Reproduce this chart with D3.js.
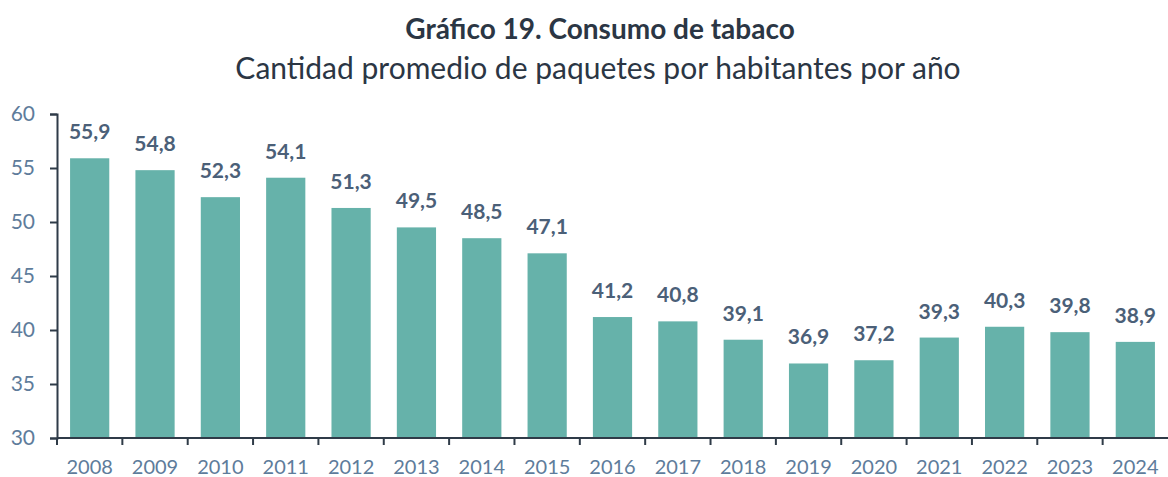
<!DOCTYPE html>
<meta charset="utf-8">
<head>
    <script src="https://d3js.org/d3.v7.min.js"></script>
</head>
<body style="margin:0; background:#fff;">
    <div id="svg_div"></div>
</body>
<script>
    // data
    var years = ["2008", "2009", "2010", "2011", "2012", "2013", "2014", "2015", "2016",
        "2017", "2018", "2019", "2020", "2021", "2022", "2023", "2024"];
    var packs = [55.9, 54.8, 52.3, 54.1, 51.3, 49.5, 48.5, 47.1, 41.2,
        40.8, 39.1, 36.9, 37.2, 39.3, 40.3, 39.8, 38.9];
    var y_ticks = [30, 35, 40, 45, 50, 55, 60];

    var title_text = "Gráfico 19. Consumo de tabaco";
    var subtitle_text = "Cantidad promedio de paquetes por habitantes por año";

    function draw_chart() {
        let width = 1168, height = 477;
        let margin = { top: 114, right: 0, bottom: 39, left: 57 };
        let font = "Lato, 'Open Sans', sans-serif";

        let svg = d3.select("#svg_div").append("svg")
            .attr("width", width)
            .attr("height", height)
            .style("display", "block");

        let x = d3.scaleBand()
            .domain(years)
            .range([margin.left, width - margin.right])
            .paddingInner(0.4)
            .paddingOuter(0.2);

        let y = d3.scaleLinear()
            .domain([30, 60])
            .range([height - margin.bottom, margin.top]);

        // title
        svg.append("text")
            .attr("x", 600).attr("y", 39)
            .attr("text-anchor", "middle")
            .style("font-family", font)
            .style("font-weight", "bold")
            .style("font-size", "28px")
            .attr("fill", "#2b3644")
            .text(title_text);

        svg.append("text")
            .attr("x", 598).attr("y", 79)
            .attr("text-anchor", "middle")
            .style("font-family", font)
            .style("font-size", "30px")
            .attr("fill", "#2b3644")
            .text(subtitle_text);

        // bars
        svg.append("g").selectAll("rect")
            .data(packs)
            .enter().append("rect")
            .attr("x", (d, i) => x(years[i]))
            .attr("y", d => y(d))
            .attr("width", x.bandwidth())
            .attr("height", d => y(30) - y(d))
            .attr("fill", "#66b2aa");

        // value labels
        svg.append("g").selectAll("text")
            .data(packs)
            .enter().append("text")
            .attr("x", (d, i) => x(years[i]) + x.bandwidth() / 2)
            .attr("y", d => y(d) - 19)
            .attr("text-anchor", "middle")
            .style("font-family", font)
            .style("font-weight", "bold")
            .style("font-size", "21px")
            .attr("fill", "#4b6078")
            .text(d => d.toFixed(1).replace(".", ","));

        // y axis
        let y_axis = svg.append("g")
            .attr("transform", "translate(" + margin.left + ",0)")
            .call(d3.axisLeft(y).tickValues(y_ticks).tickSize(7).tickPadding(15).tickSizeOuter(7));
        y_axis.select(".domain").attr("stroke", "#2f3b48").attr("stroke-width", 2);
        y_axis.selectAll(".tick line").attr("stroke", "#2f3b48").attr("stroke-width", 2);
        y_axis.selectAll("text")
            .style("font-family", font)
            .style("font-size", "21px")
            .attr("fill", "#5e7c9b");

        // x axis, ticks at category boundaries
        let x_axis = svg.append("g")
            .attr("transform", "translate(0," + y(30) + ")");
        x_axis.append("line")
            .attr("x1", margin.left).attr("x2", width)
            .attr("stroke", "#2f3b48").attr("stroke-width", 2);
        let step = x.step();
        x_axis.selectAll(".bound")
            .data(years)
            .enter().append("line")
            .attr("class", "bound")
            .attr("x1", (d) => x(d) - step * 0.2)
            .attr("x2", (d) => x(d) - step * 0.2)
            .attr("y1", 0).attr("y2", 7)
            .attr("stroke", "#2f3b48").attr("stroke-width", 2);
        x_axis.selectAll(".lbl")
            .data(years)
            .enter().append("text")
            .attr("x", d => x(d) + x.bandwidth() / 2)
            .attr("y", 30)
            .attr("dy", "0.32em")
            .attr("text-anchor", "middle")
            .style("font-family", font)
            .style("font-size", "20px")
            .attr("fill", "#5e7c9b")
            .text(d => d);
    }

    draw_chart();
</script>
